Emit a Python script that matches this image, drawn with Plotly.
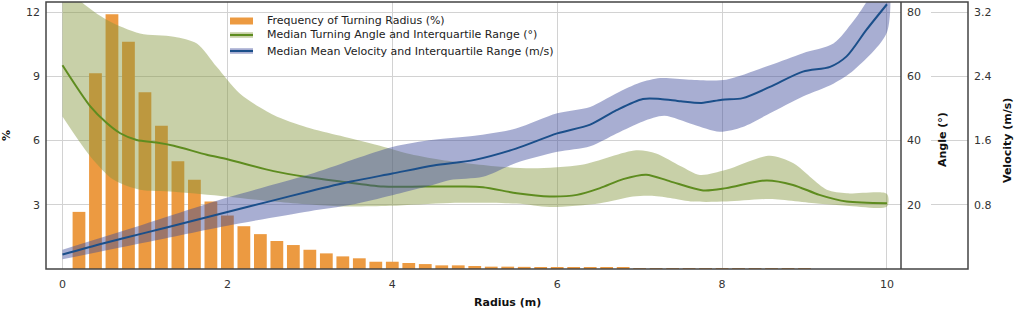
import plotly.graph_objects as go

# ---------------- data ----------------
bar_radius = [0.2, 0.4, 0.6, 0.8, 1.0, 1.2, 1.4, 1.6, 1.8, 2.0,
              2.2, 2.4, 2.6, 2.8, 3.0, 3.2, 3.4, 3.6, 3.8, 4.0,
              4.2, 4.4, 4.6, 4.8, 5.0, 5.2, 5.4, 5.6, 5.8, 6.0,
              6.2, 6.4, 6.6, 6.8, 7.0, 7.2, 7.4, 7.6, 7.8, 8.0,
              8.2, 8.4, 8.6, 8.8, 9.0]
bar_freq = [2.67, 9.15, 11.91, 10.62, 8.26, 6.70, 5.04, 4.17, 3.16, 2.50,
            2.00, 1.63, 1.31, 1.12, 0.90, 0.73, 0.59, 0.50, 0.34, 0.34,
            0.28, 0.23, 0.17, 0.17, 0.14, 0.11, 0.11, 0.10, 0.09, 0.08,
            0.07, 0.06, 0.05, 0.05, 0.04, 0.04, 0.03, 0.02, 0.02, 0.02,
            0.02, 0.03, 0.02, 0.02, 0.01]

ang_r = [0.0, 0.34, 0.54, 0.7, 0.9, 1.14, 1.35, 1.75, 2.0, 2.56, 2.96, 3.37,
         3.89, 4.38, 4.82, 5.1, 5.51, 5.91, 6.24, 6.52, 6.8, 7.08, 7.37,
         7.77, 8.05, 8.54, 8.86, 9.18, 9.51, 10.0]
ang_med = [63.5, 50.6, 45.4, 42.3, 40.2, 39.4, 38.4, 35.6, 34.2, 30.5, 28.7, 27.3,
           25.7, 25.7, 25.7, 25.5, 23.6, 22.6, 23.1, 25.2, 28.0, 29.4, 27.3,
           24.5, 25.2, 27.6, 26.2, 23.1, 21.0, 20.5]

angq_up_r = [0.0, 0.2, 0.54, 0.94, 1.35, 1.63, 1.87, 2.15, 2.56, 2.96, 3.37, 3.89,
             4.17, 4.6, 5.31, 5.71, 6.3, 6.96, 7.2, 7.5, 7.73, 8.05, 8.58, 8.86,
             9.27, 9.51, 10.0]
angq_up = [92.0, 84.0, 77.6, 73.4, 72.4, 70.3, 63.0, 54.7, 48.0, 44.2, 41.5, 38.1,
           36.1, 34.0, 31.9, 31.4, 32.5, 37.0, 36.0, 32.0, 29.3, 30.9, 35.3, 33.0,
           24.7, 23.6, 23.4]
angq_lo_r = [0.0, 0.34, 0.62, 0.94, 1.35, 1.99, 2.56, 3.37, 3.97, 4.7, 5.51, 5.91,
             6.52, 6.92, 7.15, 7.4, 7.65, 8.05, 8.58, 9.18, 9.51, 10.0]
angq_lo = [47.5, 35.0, 27.8, 24.7, 24.1, 22.6, 21.0, 19.5, 19.7, 20.6, 20.4, 19.3,
           20.5, 22.6, 22.8, 22.0, 21.0, 21.0, 21.8, 20.3, 19.7, 19.5]

vel_r = [0.0, 0.5, 1.0, 1.5, 2.0, 2.5, 3.0, 3.5, 4.0, 4.5, 5.0, 5.5, 6.0, 6.4,
         6.72, 7.04, 7.25, 7.5, 7.75, 8.0, 8.25, 8.58, 8.98, 9.31, 9.51, 9.75, 10.0]
vel_med = [0.18, 0.32, 0.45, 0.58, 0.71, 0.84, 0.97, 1.09, 1.19, 1.29, 1.36, 1.50,
           1.69, 1.80, 1.98, 2.12, 2.12, 2.09, 2.07, 2.11, 2.13, 2.27, 2.46, 2.52,
           2.65, 2.98, 3.30]
velq_up_r = [0.0, 1.0, 2.0, 3.0, 4.0, 4.5, 5.0, 5.5, 6.0, 6.4, 6.72, 7.0, 7.25,
             7.6, 8.05, 8.58, 8.98, 9.35, 9.6, 10.0]
velq_up = [0.24, 0.56, 0.89, 1.18, 1.52, 1.61, 1.66, 1.75, 1.94, 2.02, 2.19, 2.32,
           2.38, 2.36, 2.36, 2.54, 2.69, 2.81, 3.10, 3.65]
velq_lo_r = [0.0, 1.0, 2.0, 3.0, 3.5, 4.0, 4.5, 4.7, 5.1, 5.5, 6.0, 6.4, 6.72,
             7.04, 7.3, 7.65, 7.97, 8.25, 8.58, 8.98, 9.35, 9.6, 10.0]
velq_lo = [0.12, 0.33, 0.54, 0.72, 0.80, 0.92, 1.05, 1.11, 1.15, 1.32, 1.46, 1.53,
           1.69, 1.84, 1.91, 1.80, 1.71, 1.77, 1.94, 2.15, 2.31, 2.48, 2.95]

x_ticks = [0, 2, 4, 6, 8, 10]
pct_ticks = [3, 6, 9, 12]
ang_ticks = [20, 40, 60, 80]
vel_ticks = [0.8, 1.6, 2.4, 3.2]

legend_labels = ["Frequency of Turning Radius (%)",
                 "Median Turning Angle and Interquartile Range (°)",
                 "Median Mean Velocity and Interquartile Range (m/s)"]

# ---------------- style ----------------
FONT = "DejaVu Sans"
ORANGE = "#EC9A41"
GREEN = "#5E8C1F"
GREEN_FILL = "rgba(133,150,62,0.45)"
BLUE = "#1B4F8A"
BLUE_FILL = "rgba(62,75,155,0.45)"
GRID = "#d2d2d2"
L, R, T, B = 46, 968, 2, 269          # plot-area pixel box (full frame)
PW, PH = R - L, B - T
D = (901 - L) / PW                    # inner frame (x-domain end)
PCT_MAX = 12.48


def px(x):
    return (x - L) / PW


def py(y):
    return (B - y) / PH


fig = go.Figure()

fig.add_trace(go.Bar(x=bar_radius, y=bar_freq, width=0.155, marker_color=ORANGE,
                     marker_line_width=0, name=legend_labels[0], showlegend=False,
                     yaxis="y"))
fig.add_trace(go.Scatter(x=angq_lo_r + angq_up_r[::-1], y=angq_lo + angq_up[::-1],
                         mode="lines", fill="toself", fillcolor=GREEN_FILL,
                         line=dict(width=0, shape="spline", smoothing=0.8),
                         showlegend=False, hoverinfo="skip", yaxis="y2"))
fig.add_trace(go.Scatter(x=velq_lo_r + velq_up_r[::-1], y=velq_lo + velq_up[::-1],
                         mode="lines", fill="toself", fillcolor=BLUE_FILL,
                         line=dict(width=0, shape="spline", smoothing=0.8),
                         showlegend=False, hoverinfo="skip", yaxis="y3"))
fig.add_trace(go.Scatter(x=ang_r, y=ang_med, mode="lines",
                         line=dict(color=GREEN, width=2, shape="spline", smoothing=0.8),
                         name=legend_labels[1], showlegend=False, yaxis="y2"))
fig.add_trace(go.Scatter(x=vel_r, y=vel_med, mode="lines",
                         line=dict(color=BLUE, width=2, shape="spline", smoothing=0.8),
                         name=legend_labels[2], showlegend=False, yaxis="y3"))

tick_font = dict(family=FONT, size=11, color="#333")
title_font = dict(family=FONT, size=11, color="#111")

# legend drawn as swatches + text
legend_rows_y = [21, 35, 51]
sw_x0, sw_x1 = px(230), px(253)
shapes = [
    dict(type="rect", xref="paper", yref="paper", x0=0, x1=1, y0=0, y1=1,
         line=dict(color="#444", width=1.5), layer="above"),
    dict(type="line", xref="paper", yref="paper", x0=D, x1=D, y0=0, y1=1,
         line=dict(color="#444", width=1.5), layer="above"),
    dict(type="rect", xref="paper", yref="paper", x0=sw_x0, x1=sw_x1,
         y0=py(legend_rows_y[0] + 3.5), y1=py(legend_rows_y[0] - 3.5),
         fillcolor=ORANGE, line=dict(width=0)),
]
for yy, fillc, linec in [(legend_rows_y[1], GREEN_FILL, GREEN),
                         (legend_rows_y[2], BLUE_FILL, BLUE)]:
    shapes.append(dict(type="rect", xref="paper", yref="paper", x0=sw_x0, x1=sw_x1,
                       y0=py(yy + 2.8), y1=py(yy - 2.8), fillcolor=fillc,
                       line=dict(width=0)))
    shapes.append(dict(type="line", xref="paper", yref="paper", x0=sw_x0, x1=sw_x1,
                       y0=py(yy), y1=py(yy), line=dict(color=linec, width=2)))

annotations = [
    dict(text=lab, xref="paper", yref="paper", x=px(265), y=py(yy), xanchor="left",
         yanchor="middle", showarrow=False, font=dict(family=FONT, size=11, color="#222"))
    for lab, yy in zip(legend_labels, legend_rows_y)
]
annotations += [
    dict(text="<b>%</b>", xref="paper", yref="paper", x=px(6), y=py(136),
         xanchor="center", yanchor="middle", showarrow=False, textangle=-90,
         font=title_font),
    dict(text="<b>Radius (m)</b>", xref="paper", yref="paper", x=px(507), y=py(302),
         xanchor="center", yanchor="middle", showarrow=False, font=title_font),
    dict(text="<b>Angle (°)</b>", xref="paper", yref="paper", x=px(943), y=py(140),
         xanchor="center", yanchor="middle", showarrow=False, textangle=-90,
         font=title_font),
    dict(text="<b>Velocity (m/s)</b>", xref="paper", yref="paper", x=px(1008), y=py(140),
         xanchor="center", yanchor="middle", showarrow=False, textangle=-90,
         font=title_font),
]

fig.update_layout(
    width=1017, height=313,
    margin=dict(l=L, r=1017 - R, t=T, b=313 - B),
    paper_bgcolor="white", plot_bgcolor="white",
    font=dict(family=FONT, size=11, color="#333"),
    showlegend=False,
    xaxis=dict(domain=[0, D], range=[-0.2, 10.17], tickvals=x_ticks,
               showgrid=True, gridcolor=GRID, gridwidth=1, zeroline=False,
               showline=False, ticks="", tickfont=tick_font, automargin=False,
               ticklabelstandoff=7),
    yaxis=dict(range=[0, PCT_MAX], tickvals=pct_ticks, showgrid=True, gridcolor=GRID,
               zeroline=False, showline=False, ticks="", tickfont=tick_font,
               automargin=False, ticklabelstandoff=5),
    yaxis2=dict(overlaying="y", anchor="free", position=D, side="right",
                range=[0, PCT_MAX * 20 / 3], tickvals=ang_ticks, showgrid=False,
                zeroline=False, showline=False, ticks="", tickfont=tick_font,
                automargin=False, ticklabelstandoff=5),
    yaxis3=dict(overlaying="y", anchor="free", position=1.0, side="right",
                range=[0, PCT_MAX * 0.8 / 3], tickvals=vel_ticks, showgrid=False,
                zeroline=False, showline=False, ticks="inside", ticklen=37,
                tickcolor=GRID, tickwidth=1, tickfont=tick_font, automargin=False,
                ticklabelstandoff=5),
    shapes=shapes,
    annotations=annotations,
)

fig.write_html("out.html", config={"displayModeBar": False},
               post_script="document.body.style.margin='0';")
